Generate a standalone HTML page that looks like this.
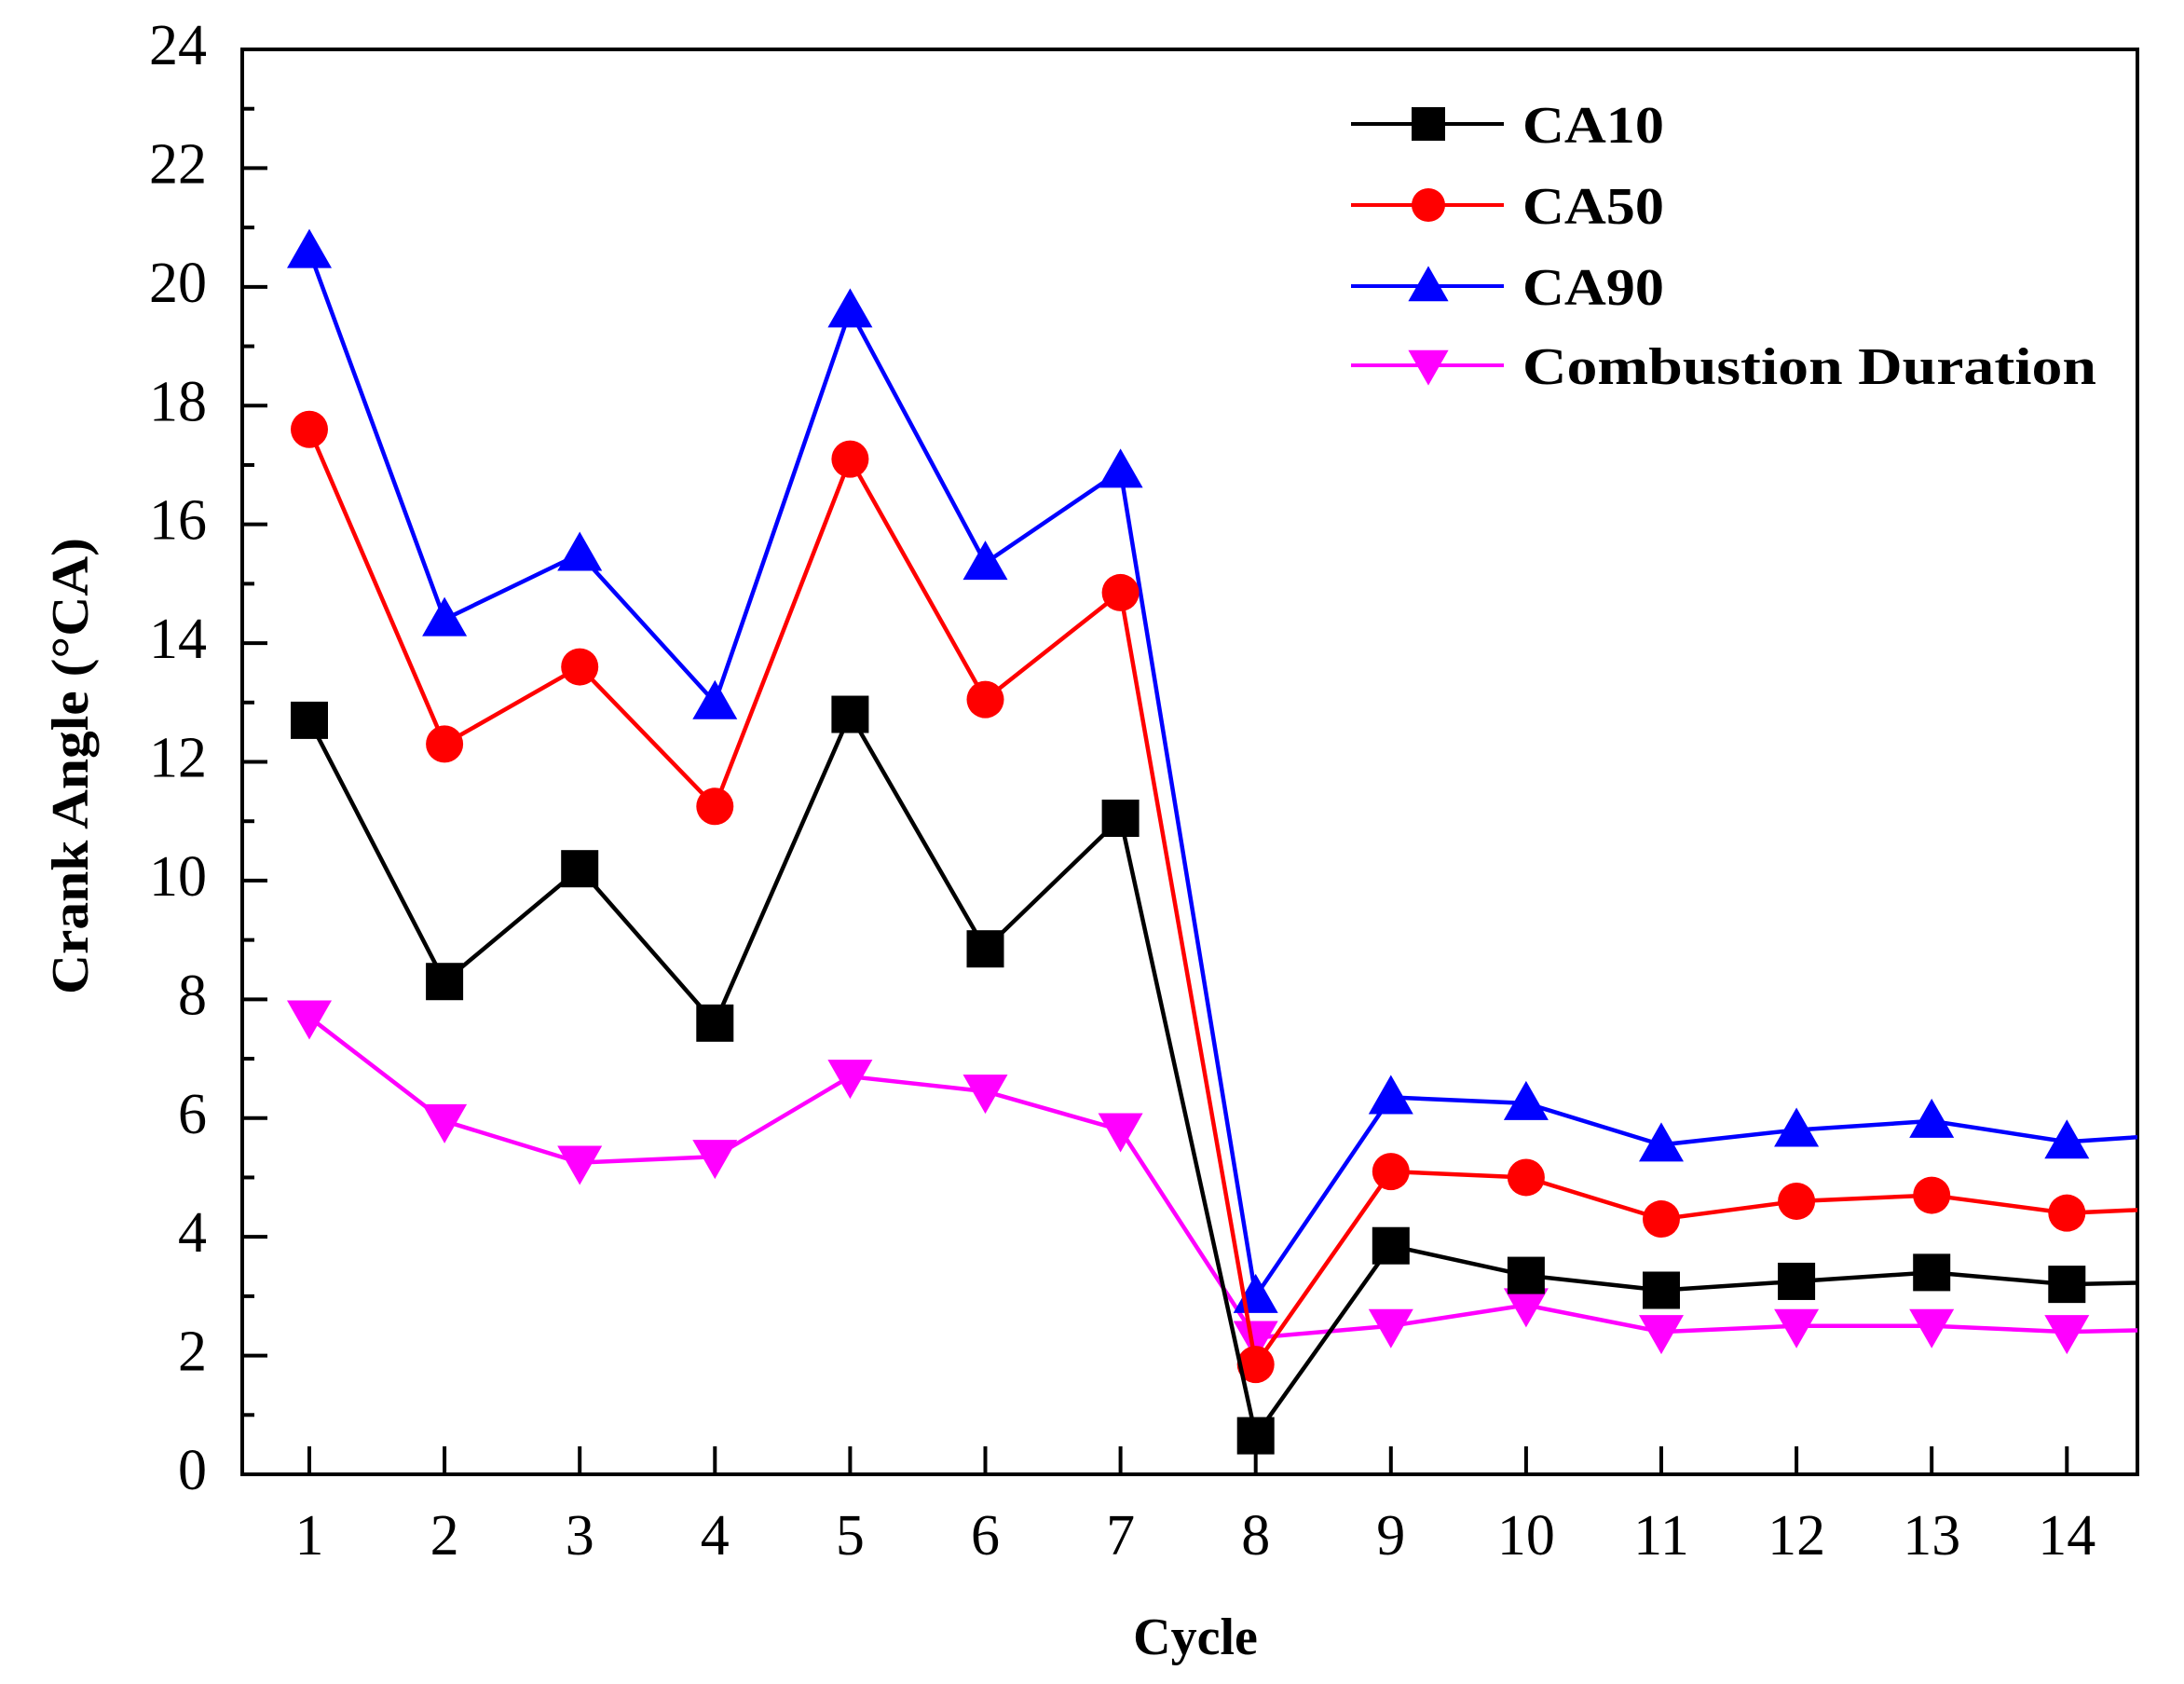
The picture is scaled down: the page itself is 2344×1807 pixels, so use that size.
<!DOCTYPE html>
<html><head><meta charset="utf-8"><style>html,body{margin:0;padding:0;background:#fff}svg{display:block}</style></head>
<body>
<svg id="chart" width="2344" height="1807" viewBox="0 0 2344 1807" xmlns="http://www.w3.org/2000/svg">
<defs><clipPath id="plotclip"><rect x="260" y="53" width="2034" height="1529"/></clipPath></defs>
<g id="axes"></g>
<g id="series" clip-path="url(#plotclip)"></g>
<g id="legend"></g>
</svg>
<script>
const cycles=[1,2,3,4,5,6,7,8,9,10,11,12,13,14,15];
const ca10=[12.7,8.3,10.2,7.6,12.8,8.85,11.05,0.65,3.85,3.35,3.1,3.25,3.4,3.2,3.25];
const ca50=[17.6,12.3,13.6,11.25,17.1,13.05,14.85,1.85,5.1,5.0,4.3,4.6,4.7,4.4,4.5];
const ca90=[20.6,14.4,15.5,13.0,19.6,15.35,16.9,3.0,6.35,6.25,5.55,5.8,5.95,5.6,5.75];
const duration=[7.7,5.95,5.25,5.35,6.7,6.45,5.8,2.3,2.5,2.85,2.4,2.5,2.5,2.4,2.45];
const xTicks=[1,2,3,4,5,6,7,8,9,10,11,12,13,14];
const yTicks=[0,2,4,6,8,10,12,14,16,18,20,22,24];
const NS='http://www.w3.org/2000/svg';
const L=260,R=2294,T=53,B=1582;
function X(v){return 332+(v-1)*145.1;}
function Y(v){return B-v*(B-T)/24;}
function mk(tag,at,parent){const e=document.createElementNS(NS,tag);for(const k in at)e.setAttribute(k,at[k]);parent.appendChild(e);return e;}
const axes=document.getElementById('axes'),ser=document.getElementById('series'),leg=document.getElementById('legend');
let f=mk('rect',{x:L,y:T,width:R-L,height:B-T,fill:'none',stroke:'#000','stroke-width':4},axes);


yTicks.forEach(v=>{
 let t=mk('line',{x1:L,x2:L+27,y1:Y(v),y2:Y(v),stroke:'#000','stroke-width':4},axes);
 
 
 if(v<24){let m=mk('line',{x1:L,x2:L+13,y1:Y(v+1),y2:Y(v+1),stroke:'#000','stroke-width':4},axes);
 
 }
 let s=mk('text',{x:222,y:Y(v)+16,'text-anchor':'end','font-family':'Liberation Serif, serif','font-size':62},axes);
 s.textContent=v;
 
 
});
xTicks.forEach(v=>{
 let t=mk('line',{x1:X(v),x2:X(v),y1:B,y2:B-30,stroke:'#000','stroke-width':4},axes);
 
 
 let s=mk('text',{x:X(v),y:1668,'text-anchor':'middle','font-family':'Liberation Serif, serif','font-size':62},axes);
 s.textContent=v;
 
 
});
let xt=mk('text',{x:1283,y:1775,'text-anchor':'middle','font-family':'Liberation Serif, serif','font-size':56,'font-weight':'bold'},axes);
xt.textContent='Cycle';


let yt=mk('text',{x:0,y:0,'text-anchor':'middle','font-family':'Liberation Serif, serif','font-size':56,'font-weight':'bold',transform:'translate(94,822) rotate(-90)',textLength:490,lengthAdjust:'spacingAndGlyphs'},axes);
yt.textContent='Crank Angle (°CA)';


function marker(type,cx,cy,col,sz,parent){
 if(type==='sq')return mk('rect',{x:cx-sz/2,y:cy-sz/2,width:sz,height:sz,fill:col},parent);
 if(type==='ci')return mk('circle',{cx:cx,cy:cy,r:sz/2,fill:col},parent);
 if(type==='up')return mk('polygon',{points:`${cx-sz*0.6},${cy+sz*0.45} ${cx+sz*0.6},${cy+sz*0.45} ${cx},${cy-sz*0.6}`,fill:col},parent);
 return mk('polygon',{points:`${cx-sz*0.6},${cy-sz*0.45} ${cx+sz*0.6},${cy-sz*0.45} ${cx},${cy+sz*0.6}`,fill:col},parent);
}
const defs=[['ca10',ca10,'#000','sq','CA10'],['ca50',ca50,'#ff0000','ci','CA50'],['ca90',ca90,'#0000ff','up','CA90'],['combustion-duration',duration,'#ff00ff','dn','Combustion Duration']];
defs.slice().reverse().forEach(d=>{
 const g=mk('g',{},ser);
 
 
 let p=mk('polyline',{points:d[1].map((v,i)=>X(cycles[i])+','+Y(v)).join(' '),fill:'none',stroke:d[2],'stroke-width':4.5},g);
 
 
 d[1].forEach((v,i)=>{let m=marker(d[3],X(cycles[i]),Y(v),d[2],40,g);
 
 });
});
const rows=[133,220,307,392];
defs.forEach((d,i)=>{
 const g=mk('g',{},leg);
 
 
 mk('line',{x1:1450,x2:1614,y1:rows[i],y2:rows[i],stroke:d[2],'stroke-width':4},g);
 marker(d[3],1533,rows[i],d[2],36,g);
 let t=mk('text',{x:1634,y:rows[i]+20,'font-family':'Liberation Serif, serif','font-size':56,'font-weight':'bold'},g);
 if(i===3){t.setAttribute('textLength',616);t.setAttribute('lengthAdjust','spacingAndGlyphs');}
 if(i<3){t.setAttribute('textLength',152);t.setAttribute('lengthAdjust','spacingAndGlyphs');}
 t.textContent=d[4];
});
</script>
</body></html>
